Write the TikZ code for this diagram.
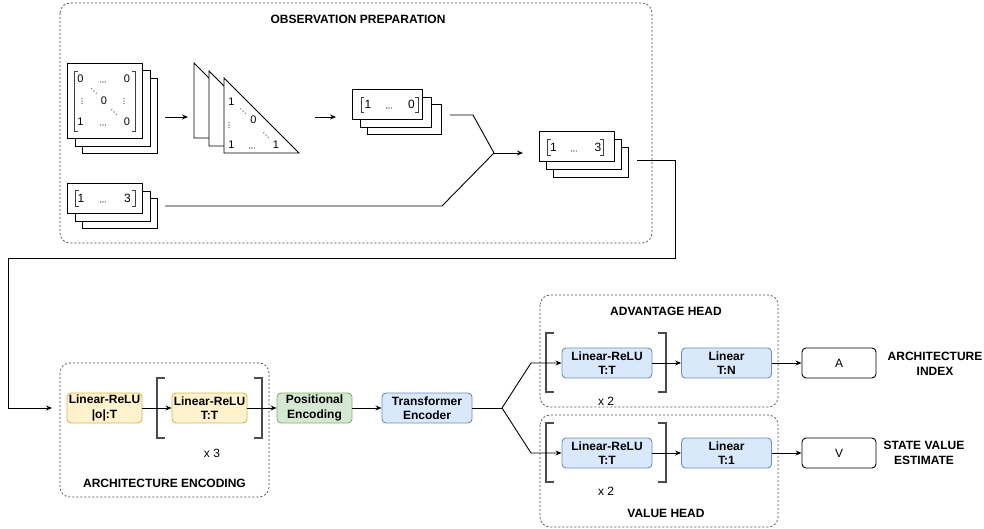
\documentclass[tikz,border=0pt]{standalone}
\usepackage{fontspec}
\setmainfont{Liberation Sans}
\usetikzlibrary{arrows.meta}
\definecolor{yfill}{HTML}{FFF2CC}
\definecolor{ydraw}{HTML}{D6B656}
\definecolor{gfill}{HTML}{D5E8D4}
\definecolor{gdraw}{HTML}{82B366}
\definecolor{bfill}{HTML}{DAE8FC}
\definecolor{bdraw}{HTML}{6C8EBF}
\newcommand\mydh[2]{\foreach \k in {-1,0,1}{\fill (#1+\k*2.3,#2) circle[radius=0.55pt];}}
\newcommand\mydv[2]{\foreach \k in {-1,0,1}{\fill (#1,#2+\k*2.6) circle[radius=0.55pt];}}
\newcommand\mydd[2]{\foreach \k in {-1,0,1}{\fill (#1+\k*2.2,#2+\k*2.2) circle[radius=0.55pt];}}
\begin{document}
\begin{tikzpicture}[x=1pt,y=-1pt,
  grp/.style={draw=black!70, dash pattern=on 2pt off 2pt, line width=0.7pt, rounded corners=10pt},
  blk/.style={rounded corners=4pt, line width=0.9pt, align=center, inner sep=0pt,
    minimum height=30pt, font=\bfseries\fontsize{12}{14.5}\selectfont},
  yel/.style={blk, fill=yfill, draw=ydraw, minimum width=75pt},
  grn/.style={blk, fill=gfill, draw=gdraw, minimum width=75pt},
  blu/.style={blk, fill=bfill, draw=bdraw, minimum width=90pt},
  outb/.style={rounded corners=4pt, line width=0.9pt, draw=black, fill=white, minimum width=74pt,
    minimum height=30pt, inner sep=0pt, font=\fontsize{12}{14}\selectfont},
  ttl/.style={font=\bfseries\fontsize{12}{14.5}\selectfont, align=center, inner sep=0pt},
  lbl/.style={font=\fontsize{12}{14}\selectfont, inner sep=0pt},
  dig/.style={font=\fontsize{11}{12}\selectfont, inner sep=0pt},
  vdig/.style={font=\fontsize{12}{13}\selectfont, inner sep=0pt},
  frame/.style={draw=black, fill=white, line width=0.8pt},
  brk/.style={draw=black!70, line width=1.3pt},
  mbrk/.style={draw=black!75, line width=0.8pt},
  arr/.style={-{Stealth[length=6pt,width=5pt]}, line width=0.9pt},
  ln/.style={line width=0.9pt}]
\useasboundingbox (0,0) rectangle (984,529);

% ---------- group boxes ----------
\draw[grp] (60,3) rectangle (652,243);
\node[ttl] (tobs) at (358,19) {OBSERVATION PREPARATION};
\draw[grp] (60,363) rectangle (269,497);
\node[ttl] (tarch) at (164.5,483) {ARCHITECTURE ENCODING};
\draw[grp] (540,295) rectangle (778,407);
\node[ttl] (tadv) at (666,311) {ADVANTAGE HEAD};
\draw[grp] (540,415) rectangle (778,527);
\node[ttl] (tval) at (666,513) {VALUE HEAD};

% ---------- matrix stack ----------
\draw[frame] (82,78) rectangle (157,153);
\draw[frame] (75,70) rectangle (150,146);
\node[frame, minimum width=75pt, minimum height=75pt, inner sep=0pt] (mat) at (104.5,100.5) {};
\draw[mbrk] (77.5,71) -- (74,71) -- (74,131) -- (77.5,131);
\draw[mbrk] (131.5,71) -- (135,71) -- (135,131) -- (131.5,131);
\node[dig] (m11) at (80.5,79) {0};
\mydh{103}{82}
\node[dig] (m13) at (127,79) {0};
\mydv{82}{101}
\mydd{94}{91}
\node[dig] (m22) at (104,101) {0};
\mydd{114}{112}
\mydv{124}{101}
\node[dig] (m31) at (80.5,122) {1};
\mydh{103}{125}
\node[dig] (m33) at (127,122) {0};

\coordinate (a1s) at (165,117);
\coordinate (a1e) at (188,117);
\draw[arr] (a1s) -- (a1e);

% ---------- triangle stack ----------
\draw[frame] (194,63) -- (194,138) -- (269,138) -- cycle;
\draw[frame] (209,71) -- (209,146) -- (284,146) -- cycle;
\draw[frame] (224,78) -- (224,153) -- (299,153) -- cycle;
\node[dig] (t11) at (231.5,102) {1};
\mydd{243}{111}
\node[dig] (t22) at (253.5,120) {0};
\mydv{229}{125}
\mydd{266}{135}
\node[dig] (t31) at (231.5,145) {1};
\mydh{252}{148}
\node[dig] (t33) at (276,145) {1};

\coordinate (a2s) at (315,117);
\coordinate (a2e) at (336,117);
\draw[arr] (a2s) -- (a2e);

% ---------- vector stack A ----------
\draw[frame] (367,104) rectangle (441,134);
\draw[frame] (360,97) rectangle (431,127);
\node[frame, minimum width=70pt, minimum height=30pt, inner sep=0pt] (va) at (387,104) {};
\draw[mbrk] (364,97) -- (361,97) -- (361,112) -- (364,112);
\draw[mbrk] (415,97) -- (418,97) -- (418,112) -- (415,112);
\node[vdig] (va1) at (368,104) {1};
\mydh{389}{108}
\node[vdig] (va3) at (411.5,104) {0};

% ---------- vector stack B ----------
\draw[frame] (82,198) rectangle (157,228);
\draw[frame] (75,191) rectangle (150,221);
\node[frame, minimum width=75pt, minimum height=30pt, inner sep=0pt] (vb) at (104.5,198) {};
\draw[mbrk] (78.5,190) -- (75,190) -- (75,206) -- (78.5,206);
\draw[mbrk] (131.5,190) -- (135,190) -- (135,206) -- (131.5,206);
\node[vdig] (vb1) at (81,198) {1};
\mydh{103}{202}
\node[vdig] (vb3) at (127.5,198) {3};

% ---------- vector stack C ----------
\draw[frame] (553,147) rectangle (628,177);
\draw[frame] (546,139) rectangle (621,169);
\node[frame, minimum width=75pt, minimum height=30pt, inner sep=0pt] (vc) at (576.5,146) {};
\draw[mbrk] (550.5,139) -- (547,139) -- (547,155) -- (550.5,155);
\draw[mbrk] (600,139) -- (603.5,139) -- (603.5,155) -- (600,155);
\node[vdig] (vc1) at (553.5,147) {1};
\mydh{574}{151}
\node[vdig] (vc3) at (598,147) {3};

% ---------- merge ----------
\coordinate (ma) at (450,115);
\coordinate (mb) at (165,206);
\coordinate (mj) at (494,153);
\coordinate (me) at (523,153);
\draw[ln] (ma) -- (473,115) -- (mj);
\draw[ln] (mb) -- (442,206) -- (mj);
\draw[arr] (mj) -- (me);

% ---------- architecture encoding ----------
\node[yel] (lr1) at (104.5,408) {Linear-ReLU\\|o|:T};
\node[yel] (lr2) at (209.5,408) {Linear-ReLU\\T:T};
\draw[brk] (165,378) -- (157,378) -- (157,438) -- (165,438);
\draw[brk] (254,378) -- (262,378) -- (262,438) -- (254,438);
\node[lbl] (x3) at (212,453) {x 3};
\node[grn] (pos) at (314.5,408) {Positional\\Encoding};
\node[blu] (tr) at (427,408) {Transformer\\Encoder};

\coordinate (cs) at (637,160);
\coordinate (ce) at (52,408);
\draw[arr] (cs) -- (675,160) -- (675,258) -- (8,258) -- (8,408) -- (ce);
\draw[arr] (lr1) -- (lr2);
\draw[arr] (lr2) -- (pos);
\draw[arr] (pos) -- (tr);

% ---------- heads ----------
\node[blu] (alr) at (607,363) {Linear-ReLU\\T:T};
\node[blu] (alin) at (726.5,363) {Linear\\T:N};
\draw[brk] (554,333) -- (546,333) -- (546,392) -- (554,392);
\draw[brk] (658,333) -- (666,333) -- (666,392) -- (658,392);
\node[lbl] (x2a) at (606,401) {x 2};

\node[blu] (vlr) at (607,453) {Linear-ReLU\\T:T};
\node[blu] (vlin) at (726.5,453) {Linear\\T:1};
\draw[brk] (554,423) -- (546,423) -- (546,482) -- (554,482);
\draw[brk] (658,423) -- (666,423) -- (666,482) -- (658,482);
\node[lbl] (x2v) at (606,491) {x 2};

\node[outb] (A) at (839,363) {A};
\node[outb] (V) at (839,453) {V};
\node[ttl] (la) at (935,364) {ARCHITECTURE\\INDEX};
\node[ttl] (lv) at (924,453) {STATE VALUE\\ESTIMATE};

\coordinate (fk) at (502,408);
\draw[ln] (tr) -- (fk);
\draw[arr] (fk) -- (531,363) -- (alr);
\draw[arr] (fk) -- (531,453) -- (vlr);
\draw[arr] (alr) -- (alin);
\draw[arr] (alin) -- (A);
\draw[arr] (vlr) -- (vlin);
\draw[arr] (vlin) -- (V);
\end{tikzpicture}
\end{document}
